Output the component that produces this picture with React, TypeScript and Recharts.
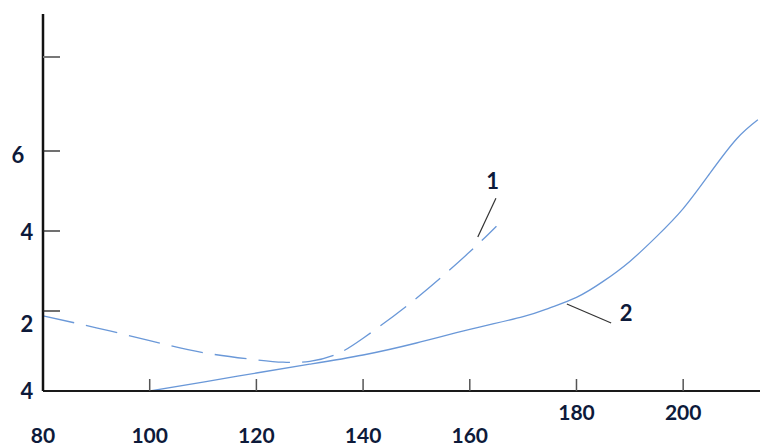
import { LineChart, Line, XAxis, YAxis, ReferenceLine, ReferenceDot } from "recharts";

// curve 1 (dashed)
const curve1X = [80, 90, 100, 110, 120, 125, 130, 135, 140, 150, 160, 165];
const curve1Y = [0.94, 0.79, 0.63, 0.48, 0.39, 0.36, 0.37, 0.46, 0.66, 1.16, 1.74, 2.06];

// curve 2 (solid)
const curve2X = [100, 110, 120, 130, 140, 150, 160, 170, 175, 180, 185, 190, 195, 200, 205, 210, 214];
const curve2Y = [0, 0.11, 0.225, 0.335, 0.45, 0.6, 0.77, 0.93, 1.04, 1.17, 1.37, 1.62, 1.93, 2.28, 2.72, 3.15, 3.39];

const xTicks = [80, 100, 120, 140, 160, 180, 200];
const yTicks = [0, 1, 2, 3, 4.175];
const yTickLabels = ["4", "2", "4", "6", ""];

const data1 = curve1X.map((x, i) => ({ x, y: curve1Y[i] }));
const data2 = curve2X.map((x, i) => ({ x, y: curve2Y[i] }));

const AXIS_X = 43;
const AXIS_Y = 391;
const BLUE = "#6a98d8";
const INK = "#0d1a3a";
const font = "Lato, 'Open Sans', sans-serif";

// per-label nudges, the scanned figure is not aligned
const yLabelShift = [
  { dx: -16, dy: 0 },
  { dx: -16, dy: 13 },
  { dx: -16, dy: 1 },
  { dx: -25, dy: 4 },
  { dx: 0, dy: 0 },
];

function XTick(props: any) {
  const { x, payload } = props;
  const raised = payload.value >= 180;
  return (
    <g>
      {payload.value !== 80 && (
        <line x1={x} x2={x} y1={AXIS_Y} y2={AXIS_Y - 12} stroke="#555" strokeWidth={1.5} />
      )}
      <text
        x={x}
        y={raised ? 420 : 443}
        textAnchor="middle"
        fontFamily={font}
        fontWeight={700}
        fontSize={21}
        fill={INK}
      >
        {payload.value}
      </text>
    </g>
  );
}

function YTick(props: any) {
  const { y, index } = props;
  const s = yLabelShift[index] || { dx: 0, dy: 0 };
  return (
    <g>
      {index > 0 && (
        <line x1={AXIS_X} x2={AXIS_X + 17} y1={y} y2={y} stroke={index === 4 ? "#777" : "#222"} strokeWidth={index === 4 ? 2 : 1.3} />
      )}
      <text
        x={AXIS_X + s.dx}
        y={y + s.dy + 8}
        textAnchor="middle"
        fontFamily={font}
        fontWeight={700}
        fontSize={22}
        fill={INK}
      >
        {yTickLabels[index]}
      </text>
    </g>
  );
}

export default function App() {
  return (
    <div style={{ position: "absolute", left: 0, top: 0, width: 762, height: 448, background: "#fff" }}>
      <LineChart width={762} height={448} margin={{ top: 14, right: 2, left: 0, bottom: 0 }}>
        <XAxis
          type="number"
          dataKey="x"
          domain={[80, 214.4]}
          ticks={xTicks}
          height={57}
          tickLine={false}
          axisLine={{ stroke: "#1a1a1a", strokeWidth: 2 }}
          tick={<XTick />}
          interval={0}
          allowDataOverflow
        />
        <YAxis
          type="number"
          dataKey="y"
          domain={[0, 4.7125]}
          ticks={yTicks}
          width={43}
          tickLine={false}
          axisLine={{ stroke: "#111", strokeWidth: 2.5 }}
          tick={<YTick />}
          interval={0}
          allowDataOverflow
        />
        <Line
          data={data1}
          dataKey="y"
          type="natural"
          stroke={BLUE}
          strokeWidth={1.3}
          strokeDasharray="32 12"
          dot={false}
          isAnimationActive={false}
        />
        <Line
          data={data2}
          dataKey="y"
          type="natural"
          stroke={BLUE}
          strokeWidth={1.3}
          dot={false}
          isAnimationActive={false}
        />
        <ReferenceLine segment={[{ x: 164.9, y: 2.41 }, { x: 161.5, y: 1.925 }]} stroke="#333" strokeWidth={1.2} />
        <ReferenceLine segment={[{ x: 178.2, y: 1.0875 }, { x: 186.5, y: 0.85 }]} stroke="#333" strokeWidth={1.2} />
        <ReferenceDot
          x={164.3}
          y={2.625}
          r={0}
          stroke="none"
          label={{ value: "1", position: "center", fontFamily: font, fontWeight: 700, fontSize: 22, fill: INK }}
        />
        <ReferenceDot
          x={189.3}
          y={0.975}
          r={0}
          stroke="none"
          label={{ value: "2", position: "center", fontFamily: font, fontWeight: 700, fontSize: 22, fill: INK }}
        />
      </LineChart>
    </div>
  );
}
